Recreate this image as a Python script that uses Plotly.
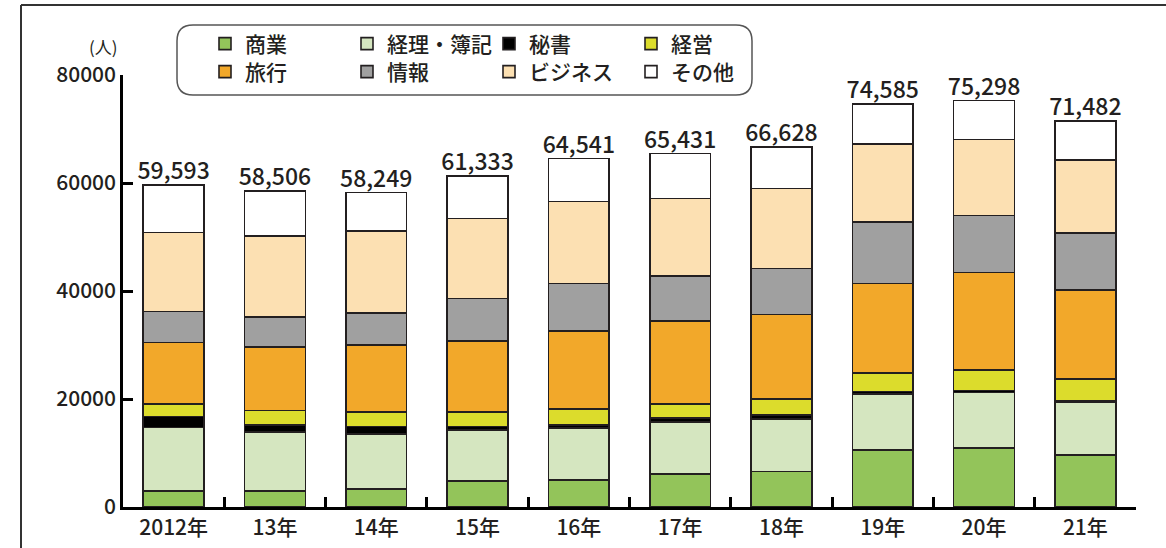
import plotly.graph_objects as go

years = ["2012年", "13年", "14年", "15年", "16年", "17年", "18年", "19年", "20年", "21年"]
totals = [59593, 58506, 58249, 61333, 64541, 65431, 66628, 74585, 75298, 71482]

series_names = ["商業", "経理・簿記", "秘書", "経営", "旅行", "情報", "ビジネス", "その他"]
shogyo  = [3012, 3012, 3326, 4860, 5045, 6098, 6579, 10534, 10903, 9665]
keiri   = [11700, 10848, 10220, 9425, 9554, 9610, 9739, 10348, 10275, 9665]
hisho   = [2033, 1350, 1349, 610, 610, 739, 739, 481, 370, 314]
keiei   = [2291, 2640, 2661, 2661, 2957, 2587, 2901, 3400, 3825, 4010]
ryoko   = [11458, 11770, 12437, 13232, 14414, 15394, 15708, 16632, 18055, 16503]
joho    = [5729, 5544, 5969, 7835, 8815, 8317, 8501, 11384, 10589, 10590]
business = [14599, 15025, 15098, 14784, 15209, 14358, 14784, 14401, 14014, 13563]
sonota  = [8771, 8317, 7189, 7926, 7937, 8328, 7677, 7405, 7267, 7172]

series_values = [shogyo, keiri, hisho, keiei, ryoko, joho, business, sonota]
colors = ["#93c45a", "#d5e6c0", "#000000", "#dcdc2c", "#f2a82a", "#a0a0a0", "#fce0b2", "#ffffff"]

W, H = 1166, 548
L, R, T, B = 123, 30, 75, 41
PW, PH = W - L - R, H - T - B


def px(x):
    return (x - L) / PW


def py(y):
    return (H - B - y) / PH


FONT = "Noto Sans CJK JP, Noto Sans, sans-serif"
INK = "#231f20"

fig = go.Figure()
for i, (name, vals, col) in enumerate(zip(series_names, series_values, colors)):
    fig.add_trace(go.Bar(
        x=years, y=vals, name=name,
        marker=dict(color=col, line=dict(color=INK, width=1.6)),
        legend="legend" if i < 4 else "legend2",
    ))

fig.add_trace(go.Scatter(
    x=years, y=totals, mode="text",
    text=[f"{v:,}" for v in totals],
    textposition="top center",
    textfont=dict(family=FONT, size=23, color=INK, weight=500),
    showlegend=False, cliponaxis=False, hoverinfo="skip",
))

legend_common = dict(
    orientation="h", xanchor="left", yanchor="middle",
    font=dict(family=FONT, size=21, color=INK, weight=500),
    entrywidth=97, entrywidthmode="pixels",
    traceorder="normal", bgcolor="rgba(0,0,0,0)", itemclick=False,
)

x0, x1, y0, y1, r = 177, 752, 25, 95, 16
path = (f"M {px(x0 + r)},{py(y0)} L {px(x1 - r)},{py(y0)} "
        f"Q {px(x1)},{py(y0)} {px(x1)},{py(y0 + r)} L {px(x1)},{py(y1 - r)} "
        f"Q {px(x1)},{py(y1)} {px(x1 - r)},{py(y1)} L {px(x0 + r)},{py(y1)} "
        f"Q {px(x0)},{py(y1)} {px(x0)},{py(y1 - r)} L {px(x0)},{py(y0 + r)} "
        f"Q {px(x0)},{py(y0)} {px(x0 + r)},{py(y0)} Z")

fig.update_layout(
    width=W, height=H,
    margin=dict(l=L, r=R, t=T, b=B, autoexpand=False),
    paper_bgcolor="white", plot_bgcolor="white",
    barmode="stack", bargap=0.4,
    font=dict(family=FONT, color=INK),
    legend=dict(x=px(205), y=py(44), **legend_common),
    legend2=dict(x=px(205), y=py(72), **legend_common),
    xaxis=dict(
        showline=True, linecolor="black", linewidth=2.5,
        ticks="inside", tickson="boundaries", ticklen=10, tickwidth=2.5, tickcolor="black",
        tickfont=dict(family=FONT, size=21, color=INK, weight=500),
        showgrid=False, zeroline=False, automargin=False,
    ),
    yaxis=dict(
        range=[0, 80000], tickvals=[0, 20000, 40000, 60000, 80000], tickformat="d",
        showline=True, linecolor="black", linewidth=2.5,
        ticks="inside", ticklen=10, tickwidth=2.5, tickcolor="black",
        tickfont=dict(family=FONT, size=21, color=INK, weight=500),
        showgrid=False, zeroline=False, automargin=False,
    ),
    shapes=[
        dict(type="path", path=path, xref="paper", yref="paper",
             line=dict(color="#555555", width=1.5), fillcolor="rgba(0,0,0,0)"),
        dict(type="line", xref="paper", yref="paper",
             x0=px(21), x1=px(1166), y0=py(5), y1=py(5),
             line=dict(color="#333333", width=2)),
        dict(type="line", xref="paper", yref="paper",
             x0=px(21), x1=px(21), y0=py(5), y1=py(548),
             line=dict(color="#333333", width=2)),
    ],
    annotations=[
        dict(text="(人)", xref="paper", yref="paper", x=px(103), y=py(46),
             xanchor="center", yanchor="middle",
             showarrow=False, font=dict(family=FONT, size=17, color=INK)),
    ],
)

fig.write_html("out.html", config={"displayModeBar": False},
               post_script="document.body.style.margin='0px';")
